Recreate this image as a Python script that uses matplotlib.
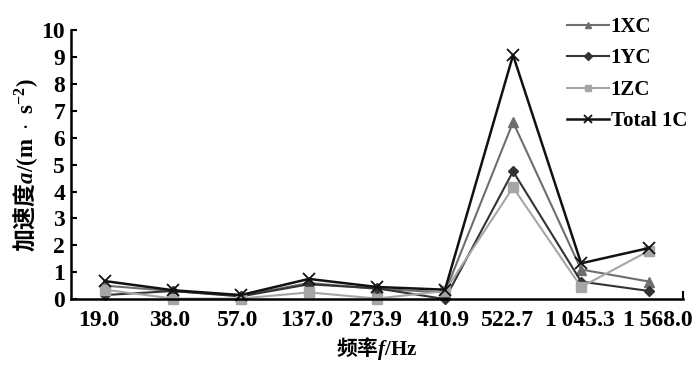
import numpy as np
import matplotlib
matplotlib.use("Agg")
import matplotlib.pyplot as plt
import matplotlib.transforms as mtransforms

plt.rcParams["font.family"] = ["Liberation Serif", "Noto Sans CJK SC"]
plt.rcParams["font.weight"] = "bold"
plt.rcParams["mathtext.fontset"] = "custom"
plt.rcParams["mathtext.rm"] = "Liberation Serif:bold"
plt.rcParams["mathtext.it"] = "Liberation Serif:italic:bold"
plt.rcParams["mathtext.bf"] = "Liberation Serif:bold"
# Chinese characters inside mathtext go through \mathsf
plt.rcParams["mathtext.sf"] = "Noto Sans CJK SC"

freqs = ["19.0", "38.0", "57.0", "137.0", "273.9", "410.9", "522.7", "1\u2009045.3", "1\u2009568.0"]
x_1xc = [0.50, 0.30, 0.12, 0.60, 0.38, 0.25, 6.58, 1.10, 0.65]
y_1yc = [0.15, 0.30, 0.10, 0.55, 0.40, 0.00, 4.75, 0.65, 0.30]
z_1zc = [0.35, 0.02, 0.02, 0.25, 0.02, 0.30, 4.15, 0.45, 1.80]
total_1c = [0.67, 0.33, 0.15, 0.75, 0.45, 0.35, 9.07, 1.33, 1.90]

pos = np.arange(len(freqs)) + 0.5

fig = plt.figure(figsize=(7.0, 3.72), dpi=100)
ax = fig.add_axes([0.101, 0.196, 0.875, 0.723])

ax.plot(pos, x_1xc, color="#6e6e6e", marker="^", ms=7, lw=1.5, label="1XC", clip_on=False)
ax.plot(pos, y_1yc, color="#333333", marker="D", ms=5.5, lw=1.5, label="1YC", clip_on=False)
ax.plot(pos, z_1zc, color="#a6a6a6", marker="s", ms=7, lw=1.5, label="1ZC", clip_on=False)
ax.plot(pos, total_1c, color="#111111", marker="x", ms=8, mew=1.3, lw=1.8,
        label="Total 1C", clip_on=False)

ax.set_xlim(0, len(freqs))
ax.set_ylim(0, 10)
ax.set_xticks(pos)
ax.set_xticklabels(freqs)
ax.set_xticks([len(freqs)], minor=True)
ax.set_yticks(range(0, 11))
ax.tick_params(axis="x", which="major", length=0, pad=8, labelsize=17)
ax.tick_params(axis="x", which="minor", direction="in", length=6, width=1.5)
ax.tick_params(axis="y", direction="in", length=4, width=1.5, pad=4, labelsize=17)

# nudge the crowded right-hand labels apart a little, like the original
shifts = [-6, -3, -3, -2, -1, -2, -6, -1, 9]
for lab, dx in zip(ax.get_xticklabels(), shifts):
    lab.set_transform(lab.get_transform() +
                      mtransforms.ScaledTranslation(dx / 100, 0, fig.dpi_scale_trans))

for s in ("top", "right"):
    ax.spines[s].set_visible(False)
for s in ("left", "bottom"):
    ax.spines[s].set_linewidth(1.8)

ax.set_xlabel("$\\mathsf{频率}\\mathit{f}\\mathrm{/Hz}$", fontsize=15, labelpad=3)
ax.set_ylabel("$\\mathsf{加速度}\\mathit{a}\\mathrm{/(m\\ \\cdot\\ s^{-2})}$", fontsize=16.5, labelpad=1)

leg = ax.legend(loc="upper right", bbox_to_anchor=(1.02, 1.08), frameon=False,
                fontsize=15, handlelength=2.0, handletextpad=0.1, labelspacing=0.55,
                borderaxespad=0, markerscale=0.7)

fig.savefig("out.png", dpi=100)
